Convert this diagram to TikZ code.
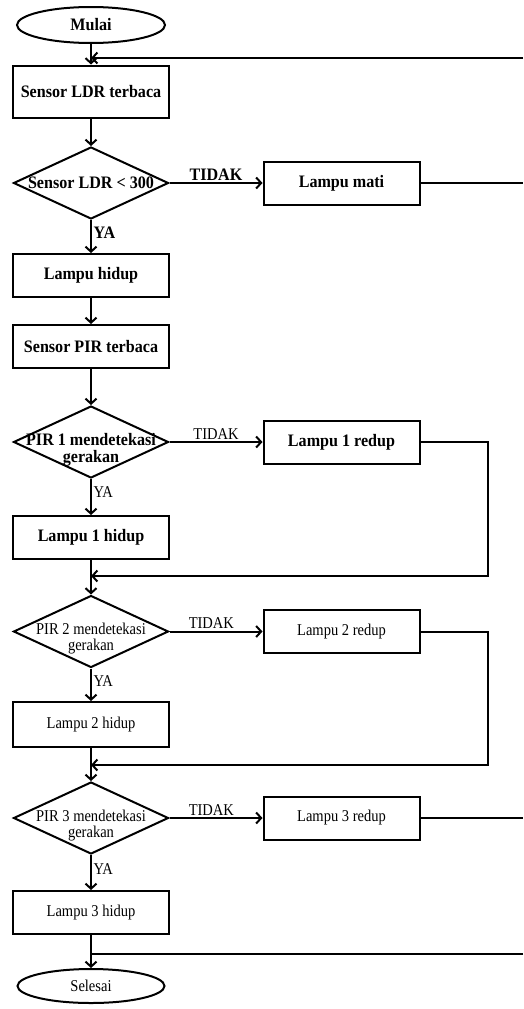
\documentclass[tikz,border=0pt]{standalone}
\usepackage{fontspec}
\setmainfont{Liberation Serif}
\newfontfamily\rgfont[FakeStretch=0.88]{Liberation Serif}
\newfontfamily\bffont[FakeStretch=0.92]{Liberation Serif}
\usetikzlibrary{shapes.geometric,arrows.meta}
\begin{document}
\begin{tikzpicture}[x=1pt,y=-1pt,
  rg/.style={font=\rgfont\fontsize{16.5}{16}\selectfont},
  bf/.style={font=\bffont\bfseries\fontsize{17.5}{17}\selectfont},
  base/.style={draw, line width=2pt, inner sep=0pt},
  proc/.style={base, rectangle, minimum width=156pt, minimum height=43pt},
  term/.style={base, ellipse, minimum width=148pt, minimum height=36pt},
  dec/.style={base, diamond, minimum width=155pt, minimum height=72pt},
  dtext/.style={align=center, inner sep=0pt},
  flow/.style={line width=2pt, -{Straight Barb[length=5pt,width=11pt,line width=2pt]}},
  link/.style={line width=2pt},
  lab/.style={inner sep=1.5pt},
]
\useasboundingbox (0,0) rectangle (523,1009);

% main column
\node[term, bf] (mulai) at (91,25) {Mulai};
\node[proc, bf, minimum height=52pt] (sldr) at (91,91.5) {Sensor LDR terbaca};
\node[dec] (d1) at (91,183) {};
\node[bf, dtext] (d1t) at (91,183) {Sensor LDR < 300};
\node[proc, bf] (lh) at (91,275.5) {Lampu hidup};
\node[proc, bf] (spir) at (91,346.5) {Sensor PIR terbaca};
\node[dec] (d2) at (91,442) {};
\node[bf, dtext] (d2t) at (91,450) {PIR 1 mendetekasi\\gerakan};
\node[proc, bf] (lh1) at (91,537.5) {Lampu 1 hidup};
\node[dec] (d3) at (91,631.5) {};
\node[rg, dtext] (d3t) at (91,639) {PIR 2 mendetekasi\\gerakan};
\node[proc, rg, minimum height=45pt] (lh2) at (91,724.5) {Lampu 2 hidup};
\node[dec] (d4) at (91,818) {};
\node[rg, dtext] (d4t) at (91,825.5) {PIR 3 mendetekasi\\gerakan};
\node[proc, rg] (lh3) at (91,912.5) {Lampu 3 hidup};
\node[term, rg, minimum width=147pt, minimum height=34pt] (sel) at (91,986) {Selesai};

% right column
\node[proc, bf] (lmati) at (341.5,183) {Lampu mati};
\node[proc, bf] (lr1) at (341.5,442) {Lampu 1 redup};
\node[proc, rg] (lr2) at (341.5,631.5) {Lampu 2 redup};
\node[proc, rg] (lr3) at (341.5,818) {Lampu 3 redup};

% junctions and return paths
\coordinate (j0) at (91,58);
\coordinate (e0) at (523,58);
\coordinate (e1) at (523,183);
\coordinate (c1a) at (488,442);
\coordinate (c1b) at (488,576);
\coordinate (j1) at (91,576);
\coordinate (c2a) at (488,631.5);
\coordinate (c2b) at (488,765);
\coordinate (j2) at (91,765);
\coordinate (e2) at (523,818);
\coordinate (j3) at (91,954);
\coordinate (e3) at (523,954);

% connectors
\draw[flow] (mulai) -- (sldr);
\draw[flow] (e0) -- (j0);
\draw[flow] (sldr) -- (d1);
\draw[flow] (d1) -- node[above, lab, bf] {TIDAK} (lmati);
\draw[link] (lmati) -- (e1);
\draw[flow] (d1) -- node[right, lab, bf, pos=0.4] {YA} (lh);
\draw[flow] (lh) -- (spir);
\draw[flow] (spir) -- (d2);
\draw[flow] (d2) -- node[above, lab, rg] {TIDAK} (lr1);
\draw[flow] (lr1) -- (c1a) -- (c1b) -- (j1);
\draw[flow] (d2) -- node[right, lab, rg, pos=0.35] {YA} (lh1);
\draw[flow] (lh1) -- (d3);
\draw[flow] (d3) -- node[above, lab, rg, pos=0.45] {TIDAK} (lr2);
\draw[flow] (lr2) -- (c2a) -- (c2b) -- (j2);
\draw[flow] (d3) -- node[right, lab, rg, pos=0.4] {YA} (lh2);
\draw[flow] (lh2) -- (d4);
\draw[flow] (d4) -- node[above, lab, rg, pos=0.45] {TIDAK} (lr3);
\draw[link] (lr3) -- (e2);
\draw[flow] (d4) -- node[right, lab, rg, pos=0.4] {YA} (lh3);
\draw[flow] (lh3) -- (sel);
\draw[link] (e3) -- (j3);
\end{tikzpicture}
\end{document}
